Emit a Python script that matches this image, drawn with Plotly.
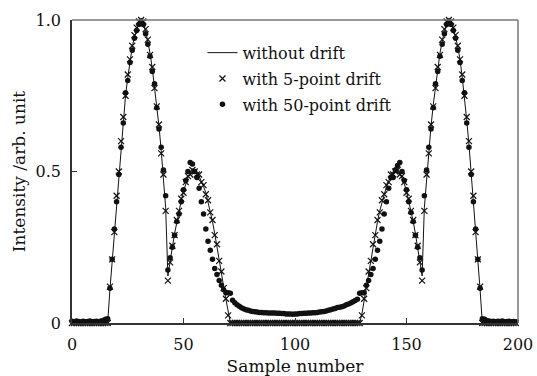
import plotly.graph_objects as go

# Sample index along the scan
sample = list(range(200))

# Reference signal without drift
without_drift = [
    0, 0, 0, 0, 0, 0, 0, 0, 0, 0,
    0, 0, 0, 0, 0, 0, 0, 0.11, 0.20, 0.31,
    0.41, 0.50, 0.59, 0.67, 0.75, 0.81, 0.87, 0.91, 0.945, 0.97,
    0.99, 1.00, 0.99, 0.965, 0.93, 0.89, 0.84, 0.78, 0.72, 0.65,
    0.57, 0.48, 0.38, 0.155, 0.21, 0.25, 0.295, 0.335, 0.37, 0.405,
    0.435, 0.46, 0.48, 0.495, 0.50, 0.50, 0.495, 0.485, 0.47, 0.45,
    0.43, 0.40, 0.37, 0.335, 0.295, 0.255, 0.21, 0.165, 0.12, 0.075,
    0.03, 0, 0, 0, 0, 0, 0, 0, 0, 0,
    0, 0, 0, 0, 0, 0, 0, 0, 0, 0,
    0, 0, 0, 0, 0, 0, 0, 0, 0, 0,
    0, 0, 0, 0, 0, 0, 0, 0, 0, 0,
    0, 0, 0, 0, 0, 0, 0, 0, 0, 0,
    0, 0, 0, 0, 0, 0, 0, 0, 0, 0,
    0.03, 0.075, 0.12, 0.165, 0.21, 0.255, 0.295, 0.335, 0.37, 0.40,
    0.43, 0.45, 0.47, 0.485, 0.495, 0.50, 0.50, 0.495, 0.48, 0.46,
    0.435, 0.405, 0.37, 0.335, 0.295, 0.25, 0.21, 0.155, 0.38, 0.48,
    0.57, 0.65, 0.72, 0.78, 0.84, 0.89, 0.93, 0.965, 0.99, 1.00,
    0.99, 0.97, 0.945, 0.91, 0.87, 0.81, 0.75, 0.67, 0.59, 0.50,
    0.41, 0.31, 0.20, 0.11, 0, 0, 0, 0, 0, 0,
    0, 0, 0, 0, 0, 0, 0, 0, 0, 0,
]

# Reconstruction with a 5-point drift
drift_5 = [
    0, 0, 0, 0, 0, 0, 0, 0, 0, 0,
    0, 0, 0, 0, 0, 0, 0, 0.12, 0.21, 0.30,
    0.42, 0.50, 0.60, 0.68, 0.75, 0.82, 0.87, 0.915, 0.95, 0.975,
    0.995, 1.00, 0.995, 0.97, 0.935, 0.885, 0.845, 0.775, 0.715, 0.655,
    0.56, 0.49, 0.37, 0.14, 0.20, 0.255, 0.29, 0.34, 0.37, 0.41,
    0.43, 0.465, 0.485, 0.49, 0.505, 0.50, 0.49, 0.49, 0.465, 0.455,
    0.425, 0.405, 0.365, 0.34, 0.29, 0.26, 0.205, 0.17, 0.115, 0.08,
    0.025, 0, 0, 0, 0, 0, 0, 0, 0, 0,
    0, 0, 0, 0, 0, 0, 0, 0, 0, 0,
    0, 0, 0, 0, 0, 0, 0, 0, 0, 0,
    0, 0, 0, 0, 0, 0, 0, 0, 0, 0,
    0, 0, 0, 0, 0, 0, 0, 0, 0, 0,
    0, 0, 0, 0, 0, 0, 0, 0, 0, 0,
    0.025, 0.08, 0.115, 0.17, 0.205, 0.26, 0.29, 0.34, 0.365, 0.405,
    0.425, 0.455, 0.465, 0.49, 0.49, 0.50, 0.505, 0.49, 0.485, 0.465,
    0.43, 0.41, 0.37, 0.34, 0.29, 0.255, 0.20, 0.14, 0.37, 0.49,
    0.56, 0.655, 0.715, 0.775, 0.845, 0.885, 0.935, 0.97, 0.995, 1.00,
    0.995, 0.975, 0.95, 0.915, 0.87, 0.82, 0.75, 0.68, 0.60, 0.50,
    0.42, 0.30, 0.21, 0.12, 0, 0, 0, 0, 0, 0,
    0, 0, 0, 0, 0, 0, 0, 0, 0, 0,
]

# Reconstruction with a 50-point drift
drift_50 = [
    0.006, 0.004, 0.007, 0.005, 0.003, 0.006, 0.004, 0.005, 0.007, 0.004,
    0.005, 0.006, 0.004, 0.007, 0.008, 0.012, 0.014, 0.115, 0.21, 0.31,
    0.40, 0.49, 0.58, 0.66, 0.76, 0.80, 0.86, 0.90, 0.94, 0.965,
    0.985, 0.995, 0.985, 0.955, 0.92, 0.88, 0.83, 0.79, 0.71, 0.64,
    0.58, 0.505, 0.42, 0.175, 0.215, 0.25, 0.29, 0.335, 0.36, 0.40,
    0.44, 0.47, 0.50, 0.53, 0.525, 0.50, 0.48, 0.445, 0.40, 0.36,
    0.31, 0.27, 0.24, 0.21, 0.18, 0.16, 0.14, 0.125, 0.11, 0.10,
    0.10, 0.098, 0.075, 0.067, 0.06, 0.055, 0.05, 0.047, 0.044, 0.042,
    0.040, 0.038, 0.037, 0.036, 0.035, 0.035, 0.034, 0.034, 0.033, 0.033,
    0.033, 0.033, 0.032, 0.032, 0.031, 0.031, 0.030, 0.030, 0.030, 0.029,
    0.030, 0.030, 0.031, 0.031, 0.032, 0.032, 0.033, 0.033, 0.034, 0.034,
    0.035, 0.036, 0.037, 0.038, 0.040, 0.042, 0.044, 0.046, 0.048, 0.051,
    0.052, 0.054, 0.056, 0.060, 0.063, 0.066, 0.070, 0.074, 0.078, 0.098,
    0.10, 0.10, 0.125, 0.14, 0.16, 0.18, 0.21, 0.24, 0.27, 0.31,
    0.36, 0.40, 0.445, 0.48, 0.48, 0.505, 0.52, 0.53, 0.50, 0.47,
    0.44, 0.40, 0.365, 0.335, 0.29, 0.25, 0.215, 0.175, 0.42, 0.505,
    0.58, 0.64, 0.71, 0.79, 0.83, 0.88, 0.92, 0.955, 0.985, 0.995,
    0.985, 0.965, 0.94, 0.90, 0.86, 0.80, 0.76, 0.66, 0.58, 0.49,
    0.40, 0.31, 0.21, 0.115, 0.014, 0.012, 0.008, 0.007, 0.005, 0.006,
    0.004, 0.006, 0.005, 0.007, 0.004, 0.005, 0.006, 0.004, 0.005, 0.004,
]

x_ticks = [0, 50, 100, 150, 200]
y_ticks = [0, 0.5, 1.0]
y_tick_text = ["0", "0.5", "1.0"]

FONT = "DejaVu Serif"

fig = go.Figure()
fig.add_trace(go.Scatter(
    x=sample, y=without_drift, mode="lines", name="without drift",
    line=dict(color="#111111", width=1), legendgroup="a", cliponaxis=False,
))
fig.add_trace(go.Scatter(
    x=sample, y=drift_5, mode="markers", name="with 5-point drift",
    marker=dict(symbol="x-thin", size=6, line=dict(color="#111111", width=1.2)),
    legendgroup="b", cliponaxis=False,
))
fig.add_trace(go.Scatter(
    x=sample, y=drift_50, mode="markers", name="with 50-point drift",
    marker=dict(symbol="circle", size=5.5, color="#111111"),
    legendgroup="c", cliponaxis=False,
))

# grey frame on the top and right sides
fig.add_shape(type="line", xref="paper", yref="paper", x0=0, x1=1, y0=1, y1=1,
              line=dict(color="#777777", width=1.5))
fig.add_shape(type="line", xref="paper", yref="paper", x0=1, x1=1, y0=0, y1=1,
              line=dict(color="#777777", width=1.5))

fig.update_layout(
    width=537, height=376,
    margin=dict(l=72, r=19, t=20, b=53),
    paper_bgcolor="white", plot_bgcolor="white",
    font=dict(family=FONT, size=16, color="#111111"),
    showlegend=True,
    legend=dict(
        x=0.2925, y=0.948, xanchor="left", yanchor="top",
        bgcolor="rgba(0,0,0,0)", font=dict(family=FONT, size=16),
        traceorder="grouped", tracegroupgap=2,
    ),
    xaxis=dict(
        range=[0, 200], tickvals=x_ticks, ticks="inside", ticklen=5,
        tickcolor="#333333", showline=True, linecolor="#333333", linewidth=1.5,
        showgrid=False, zeroline=False, ticklabelstandoff=6, automargin=False,
        tickfont=dict(family=FONT, size=16),
        title=dict(text="Sample number", font=dict(family=FONT, size=17), standoff=10),
    ),
    yaxis=dict(
        range=[0, 1], tickvals=y_ticks, ticktext=y_tick_text, ticks="inside",
        ticklen=5, tickcolor="#333333", showline=True, linecolor="#333333",
        linewidth=1.5, showgrid=False, zeroline=False, ticklabelstandoff=6,
        automargin=False, tickfont=dict(family=FONT, size=16),
        title=dict(text="Intensity /arb. unit", font=dict(family=FONT, size=17), standoff=6),
    ),
)

fig.write_html("out.html")
